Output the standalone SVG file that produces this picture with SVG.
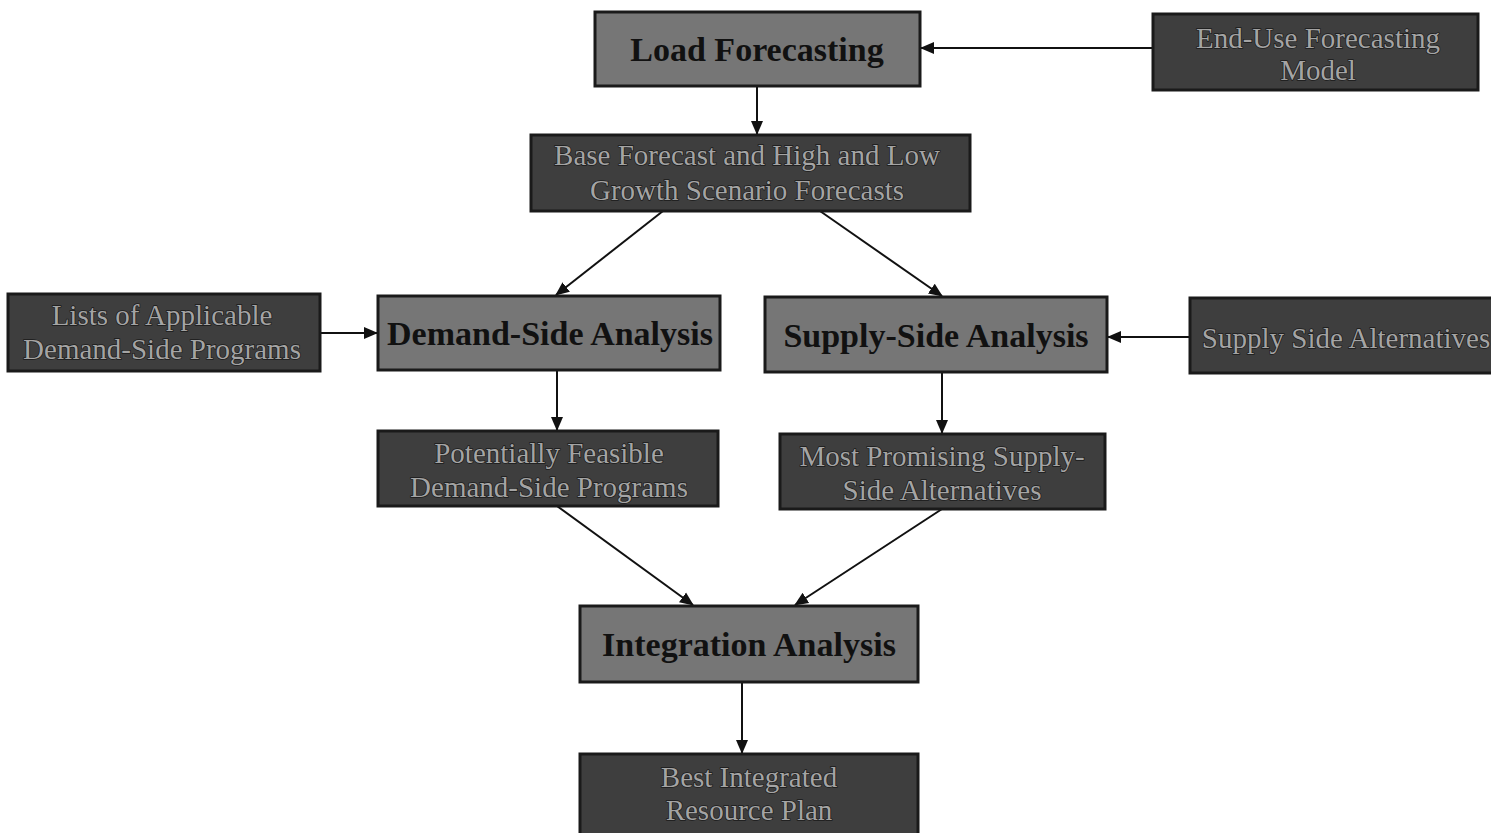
<svg xmlns="http://www.w3.org/2000/svg" width="1491" height="833" viewBox="0 0 1491 833">
<defs>
<marker id="ah" markerWidth="14" markerHeight="14" refX="13" refY="7" orient="auto" markerUnits="userSpaceOnUse">
<path d="M0,1 L14,7 L0,13 Z" fill="#111"/>
</marker>
</defs>
<style>
.lt{fill:#767676;stroke:#1a1a1a;stroke-width:3}
.dk{fill:#3e3e3e;stroke:#1a1a1a;stroke-width:3}
.bt{font-family:"Liberation Serif",serif;font-weight:bold;font-size:34px;fill:#111;text-anchor:middle}
.nt{font-family:"Liberation Serif",serif;font-size:29px;fill:#a4a4a4;stroke:#1a1a1a;stroke-width:1.4;paint-order:stroke;text-anchor:middle}
.cn{stroke:#111;stroke-width:2;fill:none;marker-end:url(#ah)}
</style>
<rect width="1491" height="833" fill="#fff"/>
<g id="connectors">
<line class="cn" x1="1153" y1="48" x2="921" y2="48"/>
<line class="cn" x1="757" y1="86" x2="757" y2="134"/>
<line class="cn" x1="663" y1="211" x2="556" y2="295"/>
<line class="cn" x1="820" y1="211" x2="942" y2="296"/>
<line class="cn" x1="320" y1="333" x2="377" y2="333"/>
<line class="cn" x1="1190" y1="337" x2="1108" y2="337"/>
<line class="cn" x1="557" y1="370" x2="557" y2="430"/>
<line class="cn" x1="942" y1="372" x2="942" y2="433"/>
<line class="cn" x1="557" y1="506" x2="693" y2="605"/>
<line class="cn" x1="942" y1="509" x2="795" y2="605"/>
<line class="cn" x1="742" y1="682" x2="742" y2="753"/>
</g>
<g id="load-forecasting"><rect class="lt" x="595" y="12" width="325" height="74"/><text class="bt" x="757" y="61">Load Forecasting</text></g>
<g id="end-use"><rect class="dk" x="1153" y="14" width="325" height="76"/><text class="nt" x="1318" y="48">End-Use Forecasting</text><text class="nt" x="1318" y="80">Model</text></g>
<g id="base-forecast"><rect class="dk" x="531" y="135" width="439" height="76"/><text class="nt" x="747" y="165">Base Forecast and High and Low</text><text class="nt" x="747" y="200">Growth Scenario Forecasts</text></g>
<g id="lists-applicable"><rect class="dk" x="8" y="294" width="312" height="77"/><text class="nt" x="162" y="325">Lists of Applicable</text><text class="nt" x="162" y="359">Demand-Side Programs</text></g>
<g id="demand-side"><rect class="lt" x="378" y="296" width="342" height="74"/><text class="bt" x="550" y="345">Demand-Side Analysis</text></g>
<g id="supply-side"><rect class="lt" x="765" y="297" width="342" height="75"/><text class="bt" x="936" y="347">Supply-Side Analysis</text></g>
<g id="supply-alternatives"><rect class="dk" x="1190" y="298" width="305" height="75"/><text class="nt" x="1346" y="348">Supply Side Alternatives</text></g>
<g id="potentially-feasible"><rect class="dk" x="378" y="431" width="340" height="75"/><text class="nt" x="549" y="463">Potentially Feasible</text><text class="nt" x="549" y="497">Demand-Side Programs</text></g>
<g id="most-promising"><rect class="dk" x="780" y="434" width="325" height="75"/><text class="nt" x="942" y="466">Most Promising Supply-</text><text class="nt" x="942" y="500">Side Alternatives</text></g>
<g id="integration"><rect class="lt" x="580" y="606" width="338" height="76"/><text class="bt" x="749" y="656">Integration Analysis</text></g>
<g id="best-plan"><rect class="dk" x="580" y="754" width="338" height="82"/><text class="nt" x="749" y="787">Best Integrated</text><text class="nt" x="749" y="820">Resource Plan</text></g>
</svg>
